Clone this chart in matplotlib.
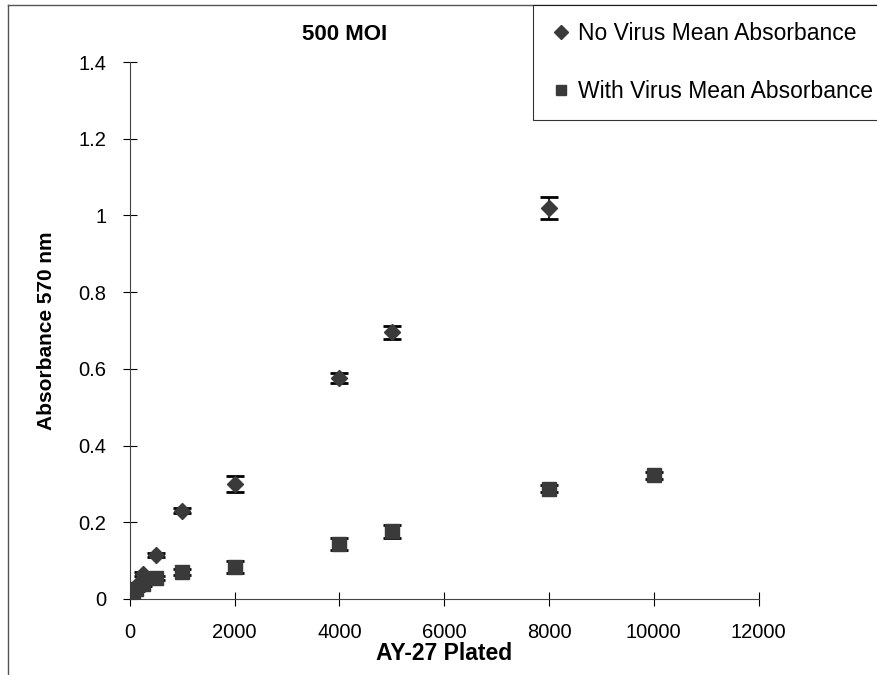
import matplotlib
matplotlib.use('Agg')
import matplotlib.pyplot as plt
from matplotlib.lines import Line2D

plt.rcParams['font.family'] = ['Liberation Sans', 'DejaVu Sans']

# dados
no_virus_x = [62.5, 125, 250, 500, 1000, 2000, 4000, 5000, 8000]
no_virus_y = [0.02, 0.035, 0.065, 0.115, 0.23, 0.30, 0.575, 0.695, 1.02]
no_virus_err = [0.005, 0.005, 0.006, 0.006, 0.006, 0.02, 0.013, 0.017, 0.029]

with_virus_x = [62.5, 125, 250, 500, 1000, 2000, 4000, 5000, 8000, 10000]
with_virus_y = [0.015, 0.025, 0.04, 0.055, 0.07, 0.083, 0.143, 0.177, 0.288, 0.322]
with_virus_err = [0.004, 0.004, 0.005, 0.006, 0.008, 0.015, 0.016, 0.017, 0.008, 0.008]

x_ticks = [0, 2000, 4000, 6000, 8000, 10000, 12000]
y_ticks = [0, 0.2, 0.4, 0.6, 0.8, 1.0, 1.2, 1.4]
y_labels = ['0', '0.2', '0.4', '0.6', '0.8', '1', '1.2', '1.4']

cor = '#3a3a3a'

fig = plt.figure(figsize=(8.77, 6.75), dpi=100)
ax = fig.add_axes([0.148, 0.1126, 0.717, 0.7955])

# barras de erro por baixo, marcadores por cima (as tampas ficam visíveis)
ax.errorbar(no_virus_x, no_virus_y, yerr=no_virus_err, fmt='none',
            ecolor='black', elinewidth=1.2, capsize=6.5, capthick=2, zorder=2)
ax.errorbar(with_virus_x, with_virus_y, yerr=with_virus_err, fmt='none',
            ecolor='black', elinewidth=1.2, capsize=6.5, capthick=2, zorder=2)
ax.plot(no_virus_x, no_virus_y, 'D', color=cor, markersize=8.5, zorder=3)
ax.plot(with_virus_x, with_virus_y, 's', color=cor, markersize=10, zorder=3)

ax.set_xlim(0, 12000)
ax.set_ylim(0, 1.4)
ax.set_xticks(x_ticks)
ax.set_yticks(y_ticks)
ax.set_yticklabels(y_labels)
ax.tick_params(direction='inout', length=10, width=0.8, labelsize=14.5, pad=12)
for lado in ['top', 'right']:
    ax.spines[lado].set_visible(False)
for lado in ['left', 'bottom']:
    ax.spines[lado].set_linewidth(0.8)
    ax.spines[lado].set_color('#444444')

ax.set_xlabel('AY-27 Plated', fontsize=16.5, fontweight='bold', labelpad=0)
ax.set_ylabel('Absorbance 570 nm', fontsize=15, fontweight='bold', labelpad=16)
fig.text(345 / 877, 1 - 35 / 675, '500 MOI', fontsize=16, fontweight='bold',
         ha='center', va='center')

# legenda sem barras de erro
handles = [Line2D([], [], marker='D', color=cor, linestyle='none', markersize=7),
           Line2D([], [], marker='s', color=cor, linestyle='none', markersize=7.5)]
nomes = ['No Virus Mean Absorbance', 'With Virus Mean Absorbance']
leg = fig.legend(handles, nomes, loc='upper left',
                 bbox_to_anchor=(533 / 877, 1 - 5 / 675), borderaxespad=0,
                 fontsize=16.5, frameon=True, fancybox=False, edgecolor='black',
                 borderpad=0.75, labelspacing=1.5, handletextpad=0.3,
                 handlelength=0.9)
leg.get_frame().set_linewidth(0.8)

# moldura da figura
fig.add_artist(Line2D([8 / 877, 1], [1 - 5 / 675, 1 - 5 / 675], color='#555555', lw=1))
fig.add_artist(Line2D([8 / 877, 8 / 877], [0, 1 - 5 / 675], color='#555555', lw=1))

plt.savefig('out.png', dpi=100)
